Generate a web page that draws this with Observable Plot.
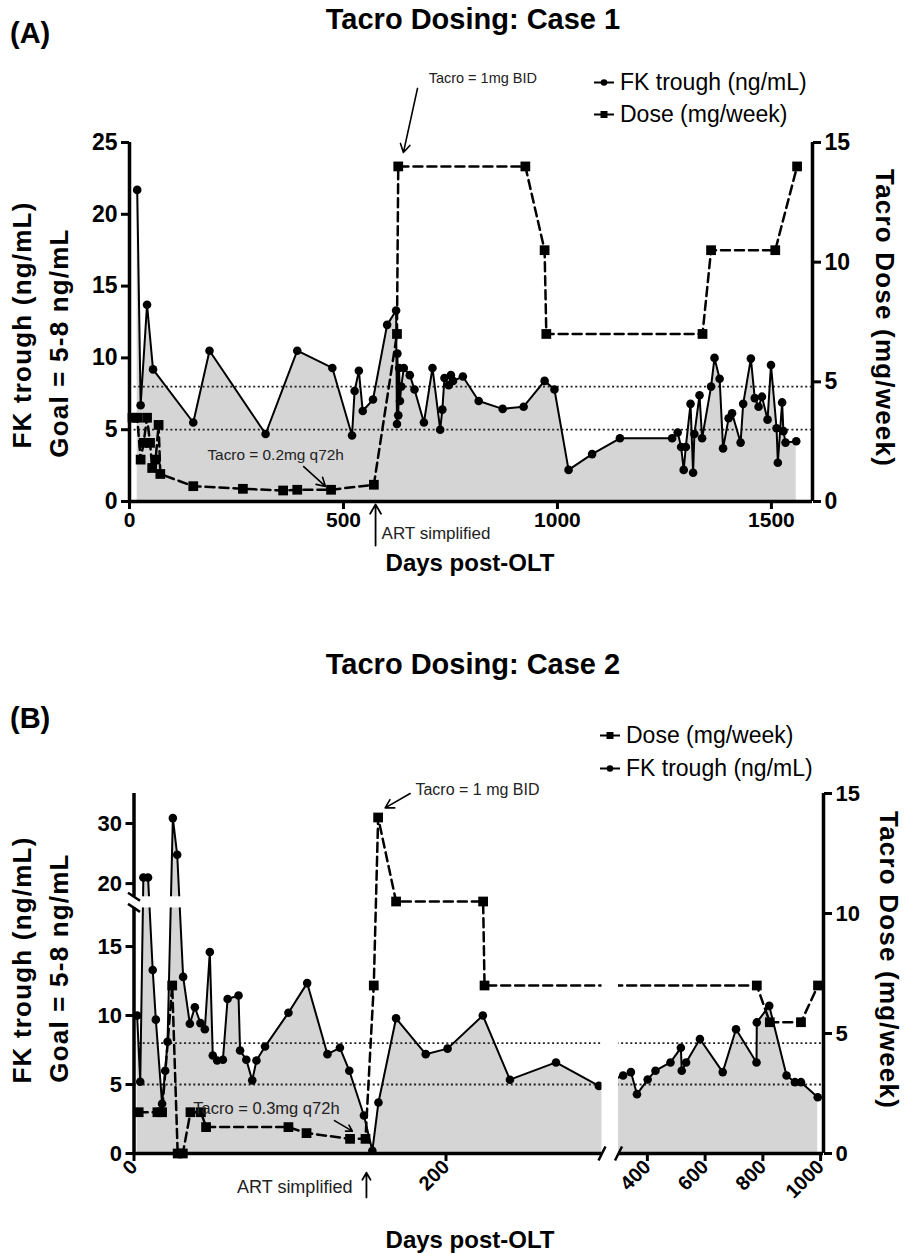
<!DOCTYPE html>
<html>
<head>
<meta charset="utf-8">
<script src="https://cdn.jsdelivr.net/npm/d3@7"></script>
<script src="https://cdn.jsdelivr.net/npm/@observablehq/plot@0.6"></script>
<style>
  html,body{margin:0;padding:0;background:#fff;}
  #root{position:relative;width:911px;height:1254px;overflow:hidden;font-family:"Liberation Sans",Arial,Helvetica,sans-serif;color:#000;}
  .t{position:absolute;white-space:nowrap;line-height:1;}
</style>
</head>
<body>
<div id="root"></div>
<script>
// ================= DATA =================
// Case 1 – FK trough (ng/mL)
const caseAFkDay = [18,26,41,55,149,187,318,392,474,520,526,536,545,569,602,623,625,626,628,630,632,635,641,655,666,688,708,726,731,736,746,751,756,779,816,872,921,970,993,1026,1081,1146,1268,1281,1289,1295,1300,1311,1317,1320,1332,1338,1359,1367,1379,1387,1400,1408,1428,1434,1452,1461,1470,1478,1491,1499,1512,1515,1525,1528,1533,1558];
const caseAFk = [21.7,6.7,13.7,9.2,5.5,10.5,4.7,10.5,9.3,4.6,7.7,9.1,6.3,7.1,12.3,13.3,5.4,10.3,6.0,9.3,7.0,8.0,9.3,8.8,7.8,5.5,9.3,5.0,6.4,8.6,8.1,8.8,8.4,8.7,7.0,6.45,6.6,8.4,7.8,2.2,3.3,4.4,4.4,4.8,3.8,2.2,3.8,6.8,2.0,4.7,7.4,4.4,8.0,10.0,8.55,3.7,5.8,6.15,4.1,6.8,9.95,7.2,6.6,7.3,5.7,9.5,5.1,2.7,6.9,4.9,4.1,4.2];
// Case 1 – Tacro dose (mg/week)
const caseADoseDay = [7,18,26,33,41,48,53,61,68,72,149,265,359,392,471,571,625,628,925,970,974,1339,1359,1509,1560];
const caseADose = [3.5,3.5,1.75,2.45,3.5,2.45,1.4,1.75,3.2,1.15,0.64,0.53,0.46,0.49,0.49,0.7,7.0,14,14,10.5,7.0,7.0,10.5,10.5,14];

// Case 2 – FK trough (ng/mL)
const caseBFkDay = [2,4,6,9,12,14,18,20,21.5,24.9,27.7,31.5,35.8,39,42.6,45.4,48.6,50.5,53.3,57,60,67,68,72,75.8,78.5,84,99,111,124,132,138,147.4,152.8,156.7,168,187,201,223.6,241,270.5,298,316,343,364,401,428,480,516,519,534,582,661,707,778,779,822,882,911,932,990];
const caseBFk = [10.0,5.2,21.0,21.0,13.3,9.7,3.6,6.0,8.1,30.9,24.8,12.8,9.4,10.6,9.45,9.0,14.6,7.1,6.74,6.8,11.2,11.45,7.46,6.8,5.3,6.74,7.75,10.2,12.35,7.2,7.66,6.0,2.75,0.2,3.7,9.8,7.2,7.6,10.0,5.35,6.6,4.9,5.65,5.9,4.3,5.36,6.0,6.6,7.66,6.0,6.6,8.3,5.9,9.0,6.6,9.5,10.7,5.65,5.17,5.17,4.08];
// Case 2 – Tacro dose (mg/week)
const caseBDoseDay = [3,15,18,24.5,28,31.3,36.2,42.9,46.2,99,110.6,138.5,148.4,153.7,156.5,168,223.8,224.7,779,824,932,991];
const caseBDose = [1.72,1.72,1.72,7.0,0,0,1.72,1.72,1.1,1.1,0.85,0.61,0.61,7.0,14,10.5,10.5,7.0,7.0,5.47,5.47,7.0];

const goalLevels = [5, 8];
const caseAXTicks = [0, 500, 1000, 1500];
const caseAYTicks = [0, 5, 10, 15, 20, 25];
const doseTicks = [0, 5, 10, 15];
const caseBXTicks = [0, 200, 400, 600, 800, 1000];
const caseBYTicks = [0, 5, 10, 15, 20, 30];
const fkLabel = "FK trough (ng/mL)";
const doseLabel = "Dose (mg/week)";

// ================= LAYOUT / STYLE =================
const FONT = '"Liberation Sans", Arial, Helvetica, sans-serif';
const AREA = "#d5d5d5";
const root = document.getElementById("root");
const fmt = d => String(d);

function addText(str, x, y, {size = 20, weight = "normal", anchor = "middle", rotate = 0, color = "#000", spacing = 0} = {}) {
  const d = document.createElement("div");
  d.className = "t";
  d.textContent = str;
  d.style.left = x + "px";
  d.style.top = y + "px";
  d.style.fontSize = size + "px";
  d.style.fontWeight = weight;
  d.style.color = color;
  if (spacing) d.style.letterSpacing = spacing + "px";
  const tx = anchor === "start" ? "0%" : anchor === "end" ? "-100%" : "-50%";
  d.style.transform = `translate(${tx}, -50%)` + (rotate ? ` rotate(${rotate}deg)` : "");
  root.appendChild(d);
}

function addLegend(label, kind, x, y, size) {
  const w = document.createElement("div");
  w.className = "t";
  w.style.left = x + "px"; w.style.top = y + "px";
  w.style.transform = "translate(0,-50%)";
  w.style.display = "flex"; w.style.alignItems = "center";
  w.style.fontSize = size + "px";
  const ns = "http://www.w3.org/2000/svg";
  const s = document.createElementNS(ns, "svg");
  s.setAttribute("width", 24); s.setAttribute("height", 14);
  const l = document.createElementNS(ns, "line");
  l.setAttribute("x1", 2); l.setAttribute("x2", 22); l.setAttribute("y1", 7); l.setAttribute("y2", 7);
  l.setAttribute("stroke", "#000"); l.setAttribute("stroke-width", 2);
  s.appendChild(l);
  let m;
  if (kind === "circle") {
    m = document.createElementNS(ns, "circle");
    m.setAttribute("cx", 12); m.setAttribute("cy", 7); m.setAttribute("r", 3.3);
  } else {
    m = document.createElementNS(ns, "rect");
    m.setAttribute("x", 8.5); m.setAttribute("y", 3.5); m.setAttribute("width", 7); m.setAttribute("height", 7);
  }
  m.setAttribute("fill", "#000");
  s.appendChild(m);
  w.appendChild(s);
  const sp = document.createElement("span");
  sp.textContent = label; sp.style.marginLeft = "4px";
  w.appendChild(sp);
  root.appendChild(w);
}

function place(svg, top) {
  svg.style.position = "absolute";
  svg.style.left = "0px";
  svg.style.top = top + "px";
  root.appendChild(svg);
}

const yTickFont = {fontSize: 23, fontWeight: "bold"};
const xTickFont = {fontSize: 21, fontWeight: "bold"};
const plotStyle = {background: "transparent", overflow: "visible", fontFamily: FONT};
const slashSym = {draw(ctx) { ctx.moveTo(-3.5, 7); ctx.lineTo(3.5, -7); }};
const backslashSym = {draw(ctx) { ctx.moveTo(-6, -4); ctx.lineTo(6, 4); }};

// ================= PANEL A =================
const aFkData = caseAFkDay.map((day, i) => ({day, fk: caseAFk[i]}));
const aDoseData = caseADoseDay.map((day, i) => ({day, dose: caseADose[i]}));
const A = {width: 911, height: 580, marginTop: 142, marginBottom: 79, marginLeft: 129, marginRight: 99, xMax: 1596};

const aFkPlot = Plot.plot({
  width: A.width, height: A.height,
  marginTop: A.marginTop, marginBottom: A.marginBottom, marginLeft: A.marginLeft, marginRight: A.marginRight,
  style: plotStyle,
  x: {domain: [0, A.xMax], label: null},
  y: {domain: [0, 25], label: null},
  marks: [
    Plot.areaY(aFkData, {x: "day", y: "fk", fill: AREA}),
    Plot.ruleY(goalLevels, {stroke: "#222", strokeWidth: 1.8, strokeDasharray: "2,2.6"}),
    Plot.line(aFkData, {x: "day", y: "fk", stroke: "#000", strokeWidth: 2}),
    Plot.dot(aFkData, {x: "day", y: "fk", r: 4.3, fill: "#000"}),
    Plot.ruleX([0], {stroke: "#000", strokeWidth: 3.5}),
    Plot.ruleY([0], {stroke: "#000", strokeWidth: 3.5}),
    Plot.axisY({ticks: caseAYTicks, tickFormat: fmt, anchor: "left", tickSize: 8, tickPadding: 4, strokeWidth: 3, label: null, ...yTickFont}),
    Plot.axisX({ticks: caseAXTicks, tickFormat: fmt, anchor: "bottom", tickSize: 8, tickPadding: 3, strokeWidth: 3, label: null, ...xTickFont})
  ]
});
place(aFkPlot, 0);

const aDosePlot = Plot.plot({
  width: A.width, height: A.height,
  marginTop: A.marginTop, marginBottom: A.marginBottom, marginLeft: A.marginLeft, marginRight: A.marginRight,
  style: plotStyle,
  x: {domain: [0, A.xMax], axis: null},
  y: {domain: [0, 15], label: null},
  marks: [
    Plot.line(aDoseData, {x: "day", y: "dose", stroke: "#000", strokeWidth: 2.5, strokeDasharray: "9,5"}),
    Plot.dot(aDoseData, {x: "day", y: "dose", symbol: "square", r: 5.5, fill: "#000"}),
    Plot.ruleX([A.xMax], {stroke: "#000", strokeWidth: 3.5}),
    Plot.axisY({ticks: doseTicks, tickFormat: fmt, anchor: "right", tickSize: 8, tickPadding: 4, strokeWidth: 3, label: null, ...yTickFont}),
    Plot.text(["Tacro = 1mg BID"], {x: 699, y: 17.7, text: d => d, textAnchor: "start", fontSize: 14.5, fill: "#222"}),
    Plot.arrow([0], {x1: 673, y1: 17.26, x2: 640, y2: 14.58, stroke: "#000", strokeWidth: 1.6, headLength: 9}),
    Plot.text(["Tacro = 0.2mg q72h"], {x: 182, y: 1.92, text: d => d, textAnchor: "start", fontSize: 15.4, fill: "#222"}),
    Plot.arrow([0], {x1: 407, y1: 1.46, x2: 458, y2: 0.63, stroke: "#000", strokeWidth: 1.6, headLength: 9}),
    Plot.arrow([0], {x1: 575, y1: -1.84, x2: 575, y2: -0.12, stroke: "#000", strokeWidth: 1.8, headLength: 9}),
    Plot.text(["ART simplified"], {x: 589, y: -1.34, text: d => d, textAnchor: "start", fontSize: 17, fill: "#222"})
  ]
});
place(aDosePlot, 0);

addText("Tacro Dosing: Case 1", 473, 19, {size: 29, weight: "bold"});
addText("(A)", 10, 33, {size: 29, weight: "bold", anchor: "start"});
addLegend(fkLabel, "circle", 592, 82, 23);
addLegend(doseLabel, "square", 592, 114, 23);
addText("FK trough (ng/mL)", 22, 325, {size: 26, weight: "bold", rotate: -90, spacing: 1.2});
addText("Goal = 5-8 ng/mL", 59, 343, {size: 26, weight: "bold", rotate: -90, spacing: 1.2});
addText("Tacro Dose (mg/week)", 885, 318, {size: 26, weight: "bold", rotate: 90, spacing: 1.2});
addText("Days post-OLT", 470, 563, {size: 24, weight: "bold"});

// ================= PANEL B =================
const bFkData = caseBFkDay.map((day, i) => ({day, fk: caseBFk[i]}));
const bDoseData = caseBDoseDay.map((day, i) => ({day, dose: caseBDose[i]}));
const B = {top: 600, width: 911, height: 654, marginTop: 193, marginBottom: 101, marginLeft: 133.5, marginRight: 88, xMax: 1010, yMax: 35};
// broken axes (piecewise linear scales)
const xBreak = [300, 300.0001];
const yBreak = [17.8, 17.8001];
const bXScale = {type: "linear", domain: [0, xBreak[0], xBreak[1], B.xMax], range: [133.5, 601.5, 618, 823]};
const bYScale = {type: "linear", domain: [0, yBreak[0], yBreak[1], B.yMax], range: [553, 307.4, 296.3, 193]};

const bFkPlot = Plot.plot({
  width: B.width, height: B.height,
  marginTop: B.marginTop, marginBottom: B.marginBottom, marginLeft: B.marginLeft, marginRight: B.marginRight,
  style: plotStyle,
  x: {...bXScale, label: null},
  y: {...bYScale, label: null},
  marks: [
    Plot.areaY(bFkData, {x: "day", y: "fk", fill: AREA}),
    Plot.ruleY(goalLevels, {stroke: "#222", strokeWidth: 1.8, strokeDasharray: "2,2.6"}),
    Plot.line(bFkData, {x: "day", y: "fk", stroke: "#000", strokeWidth: 2}),
    Plot.dot(bFkData, {x: "day", y: "fk", r: 4.3, fill: "#000"}),
    Plot.rect([0], {x1: 0, x2: B.xMax, y1: yBreak[0], y2: yBreak[1], fill: "white"}),
    Plot.ruleX([0], {y1: 0, y2: yBreak[0], stroke: "#000", strokeWidth: 3.5}),
    Plot.ruleX([0], {y1: yBreak[1], y2: B.yMax, stroke: "#000", strokeWidth: 3.5}),
    Plot.ruleY([0], {x1: 0, x2: xBreak[0], stroke: "#000", strokeWidth: 3.5}),
    Plot.ruleY([0], {x1: xBreak[1], x2: B.xMax, stroke: "#000", strokeWidth: 3.5}),
    Plot.dot(yBreak, {x: 0, y: d => d, symbol: backslashSym, r: 7, stroke: "#000", strokeWidth: 2.5, fill: "none"}),
    Plot.axisY({ticks: caseBYTicks, tickFormat: fmt, anchor: "left", tickSize: 8, tickPadding: 4, strokeWidth: 3, label: null, fontSize: 22, fontWeight: "bold"}),
    Plot.axisX({ticks: caseBXTicks, tickFormat: fmt, anchor: "bottom", tickSize: 8, tickPadding: 2, tickRotate: -45, strokeWidth: 3, label: null, fontSize: 20, fontWeight: "bold"})
  ]
});
place(bFkPlot, B.top);

const bDosePlot = Plot.plot({
  width: B.width, height: B.height,
  marginTop: B.marginTop, marginBottom: B.marginBottom, marginLeft: B.marginLeft, marginRight: B.marginRight,
  style: plotStyle,
  x: {...bXScale, axis: null},
  y: {domain: [0, 15], label: null},
  marks: [
    Plot.line(bDoseData, {x: "day", y: "dose", stroke: "#000", strokeWidth: 2.5, strokeDasharray: "9,5"}),
    Plot.dot(bDoseData, {x: "day", y: "dose", symbol: "square", r: 5.5, fill: "#000"}),
    Plot.rect([0], {x1: xBreak[0], x2: xBreak[1], y1: 0, y2: 15, fill: "white"}),
    Plot.dot(xBreak, {x: d => d, y: 0, symbol: slashSym, r: 7, stroke: "#000", strokeWidth: 2.5, fill: "none"}),
    Plot.ruleX([B.xMax], {stroke: "#000", strokeWidth: 3.5}),
    Plot.axisY({ticks: doseTicks, tickFormat: fmt, anchor: "right", tickSize: 8, tickPadding: 4, strokeWidth: 3, label: null, fontSize: 22, fontWeight: "bold"}),
    Plot.text(["Tacro = 1 mg BID"], {x: 180.4, y: 15.17, text: d => d, textAnchor: "start", fontSize: 16, fill: "#222"}),
    Plot.arrow([0], {x1: 177, y1: 15.0, x2: 161, y2: 14.4, stroke: "#000", strokeWidth: 1.6, headLength: 9}),
    Plot.text(["Tacro = 0.3mg q72h"], {x: 38, y: 1.875, text: d => d, textAnchor: "start", fontSize: 16.5, fill: "#222"}),
    Plot.arrow([0], {x1: 128.5, y1: 1.37, x2: 140, y2: 0.93, stroke: "#000", strokeWidth: 1.6, headLength: 8}),
    Plot.arrow([0], {x1: 149, y1: -1.83, x2: 149, y2: -0.8, stroke: "#000", strokeWidth: 1.8, headLength: 9}),
    Plot.text(["ART simplified"], {x: 140, y: -1.42, text: d => d, textAnchor: "end", fontSize: 18, fill: "#222"})
  ]
});
place(bDosePlot, B.top);

addText("Tacro Dosing: Case 2", 473, 664, {size: 29, weight: "bold"});
addText("(B)", 10, 718, {size: 29, weight: "bold", anchor: "start"});
addLegend(doseLabel, "square", 598, 735, 23);
addLegend(fkLabel, "circle", 598, 768, 23);
addText("FK trough (ng/mL)", 22, 960, {size: 26, weight: "bold", rotate: -90, spacing: 1.2});
addText("Goal = 5-8 ng/mL", 59, 968, {size: 26, weight: "bold", rotate: -90, spacing: 1.2});
addText("Tacro Dose (mg/week)", 889, 960, {size: 26, weight: "bold", rotate: 90, spacing: 1.2});
addText("Days post-OLT", 470, 1240, {size: 24, weight: "bold"});
</script>
</body>
</html>
